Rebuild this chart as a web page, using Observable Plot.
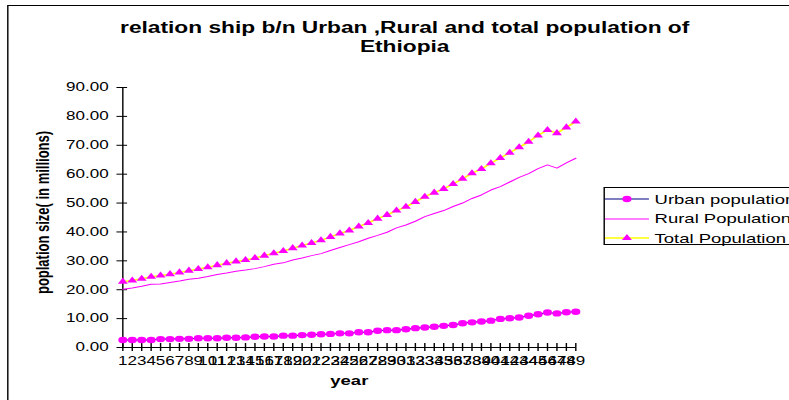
<!DOCTYPE html>
<html>
<head>
<meta charset="utf-8">
<script src="https://cdn.jsdelivr.net/npm/d3@7"></script>
<script src="https://cdn.jsdelivr.net/npm/@observablehq/plot@0.6"></script>
<style>
  html, body { margin: 0; padding: 0; background: #fff; }
  #page { position: relative; width: 789px; height: 400px; overflow: hidden; }
  /* the whole sheet is drawn narrow and widened, like a stretched worksheet chart */
  #stage { position: absolute; left: 0; top: 0; width: 556px; height: 400px;
           transform: scaleX(1.42); transform-origin: 0 0;
           font-family: "Liberation Sans", Arial, sans-serif; color: #000; }
  #frame { position: absolute; left: 4.5px; top: 5px; width: 620px; height: 430px;
           border: 1px solid #000; }
  #title { position: absolute; left: 45px; width: 480px; top: 18px; text-align: center;
           font-weight: bold; font-size: 16px; line-height: 19px; white-space: nowrap; }
  #chart { position: absolute; left: 0; top: 0; }
  #legend { position: absolute; left: 424.5px; top: 187px; width: 160px; height: 56px;
            border: 1px solid #000; background: #fff; font-size: 13px; }
  .row { position: absolute; left: 0; height: 19px; line-height: 19px; white-space: nowrap; }
  .row svg { position: absolute; left: 0.5px; top: 4.5px; }
  .row span { position: absolute; left: 35.5px; top: 0; }
</style>
</head>
<body>
<div id="page">
  <div id="stage">
    <div id="frame"></div>
    <div id="chart"></div>
    <div id="title">relation ship b/n Urban ,Rural and total population of<br>Ethiopia</div>
    <div id="legend"></div>
  </div>
</div>
<script>
// year index (category axis)
const years = [1, 2, 3, 4, 5, 6, 7, 8, 9, 10, 11, 12, 13, 14, 15, 16, 17, 18, 19, 20,
  21, 22, 23, 24, 25, 26, 27, 28, 29, 30, 31, 32, 33, 34, 35, 36, 37, 38, 39, 40,
  41, 42, 43, 44, 45, 46, 47, 48, 49];

// population in millions
const urban = [2.6, 2.6, 2.6, 2.6, 2.9, 2.9, 3.0, 3.0, 3.2, 3.2, 3.2, 3.4, 3.4, 3.5, 3.7,
  3.8, 3.8, 4.1, 4.1, 4.3, 4.4, 4.6, 4.7, 4.9, 4.9, 5.3, 5.3, 5.8, 6.0, 6.0, 6.3, 6.7, 6.9,
  7.2, 7.5, 7.8, 8.4, 8.7, 9.0, 9.3, 9.9, 10.1, 10.4, 11.0, 11.5, 12.1, 11.8, 12.2, 12.4];

const rural = [20.2, 20.6, 21.2, 21.9, 22.0, 22.5, 23.0, 23.6, 24.0, 24.6, 25.3, 25.8, 26.4,
  26.8, 27.3, 28.0, 28.8, 29.3, 30.3, 31.0, 31.8, 32.5, 33.6, 34.6, 35.6, 36.6, 37.8, 38.8,
  39.9, 41.4, 42.4, 43.7, 45.3, 46.4, 47.4, 48.8, 50.0, 51.6, 52.8, 54.5, 55.7, 57.3, 58.9,
  60.2, 61.9, 63.2, 62.1, 63.9, 65.5];

const total = [22.8, 23.2, 23.8, 24.5, 24.9, 25.4, 26.0, 26.6, 27.2, 27.8, 28.5, 29.2, 29.8,
  30.3, 31.0, 31.8, 32.6, 33.4, 34.4, 35.3, 36.2, 37.1, 38.3, 39.5, 40.5, 41.9, 43.1, 44.6,
  45.9, 47.4, 48.7, 50.4, 52.2, 53.6, 54.9, 56.6, 58.4, 60.3, 61.8, 63.8, 65.6, 67.4, 69.3,
  71.2, 73.4, 75.3, 74.2, 76.2, 78.2];

// value axis ticks
const yTicks = [0, 10, 20, 30, 40, 50, 60, 70, 80, 90];

const seriesNames = ["Urban population", "Rural Population", "Total Population"];

const rows = years.map((y, i) => ({year: y, urban: urban[i], rural: rural[i], total: total[i]}));

const MAGENTA = "#FF00FF", YELLOW = "#FFFF00", NAVY = "#000080";

const chart = Plot.plot({
  width: 556,
  height: 400,
  marginLeft: 86,
  marginRight: 151,
  marginTop: 87,
  marginBottom: 53,
  style: {fontFamily: "'Liberation Sans', Arial, sans-serif", fontSize: "12px",
          background: "transparent", overflow: "visible", color: "#000"},
  x: {type: "linear", domain: [1, 49]},
  y: {domain: [0, 90]},
  marks: [
    // cross tick marks on both axes
    Plot.ruleY(yTicks, {x1: 1, x2: 1, insetLeft: -4, insetRight: -3.5, stroke: "#000"}),
    Plot.ruleX(years, {y1: 0, y2: 0, insetTop: -4, insetBottom: -4, stroke: "#000"}),
    Plot.ruleX([1], {stroke: "#000"}),
    Plot.ruleY([0], {stroke: "#000"}),
    Plot.axisX(years, {tickSize: 0, tickPadding: 9, tickFormat: d => String(d), label: null, fontSize: 12}),
    Plot.axisY(yTicks, {tickSize: 0, tickPadding: 10, tickFormat: d => d.toFixed(2), label: null, fontSize: 12}),
    Plot.text(["year"], {text: d => d, frameAnchor: "bottom", dy: 37, fontWeight: "bold", fontSize: 13}),
    Plot.text(["poplation size( in millions)"], {text: d => d, frameAnchor: "left", textAnchor: "middle",
      dx: -56, dy: -5, rotate: -90, fontWeight: "bold", fontSize: 13}),
    // series
    Plot.line(rows, {x: "year", y: "urban", stroke: NAVY, strokeWidth: 1}),
    Plot.dot(rows, {x: "year", y: "urban", r: 3.2, fill: MAGENTA, stroke: "none"}),
    Plot.line(rows, {x: "year", y: "rural", stroke: MAGENTA, strokeWidth: 1}),
    Plot.line(rows, {x: "year", y: "total", stroke: YELLOW, strokeWidth: 1.5}),
    Plot.dot(rows, {x: "year", y: "total", symbol: "triangle", r: 2.6, fill: MAGENTA, stroke: "none"})
  ]
});
document.getElementById("chart").appendChild(chart);

// legend: line sample + marker + name for each series
const legendStyles = [
  {line: NAVY, marker: "circle"},
  {line: MAGENTA, marker: null},
  {line: YELLOW, marker: "triangle"}
];
const legend = d3.select("#legend");
seriesNames.forEach((name, i) => {
  const row = legend.append("div").attr("class", "row").style("top", (1.5 + i * 19.5) + "px");
  const svg = row.append("svg").attr("width", 32).attr("height", 10);
  svg.append("line").attr("x1", 0).attr("x2", 31).attr("y1", 5).attr("y2", 5)
    .attr("stroke", legendStyles[i].line).attr("stroke-width", i === 2 ? 1.5 : 1);
  if (legendStyles[i].marker === "circle") {
    svg.append("circle").attr("cx", 15.5).attr("cy", 5).attr("r", 3.2).attr("fill", MAGENTA);
  } else if (legendStyles[i].marker === "triangle") {
    svg.append("path").attr("transform", "translate(15.5,5)")
      .attr("d", d3.symbol(d3.symbolTriangle, 2.6 * 2.6 * Math.PI)()).attr("fill", MAGENTA);
  }
  row.append("span").text(name);
});
</script>
</body>
</html>
